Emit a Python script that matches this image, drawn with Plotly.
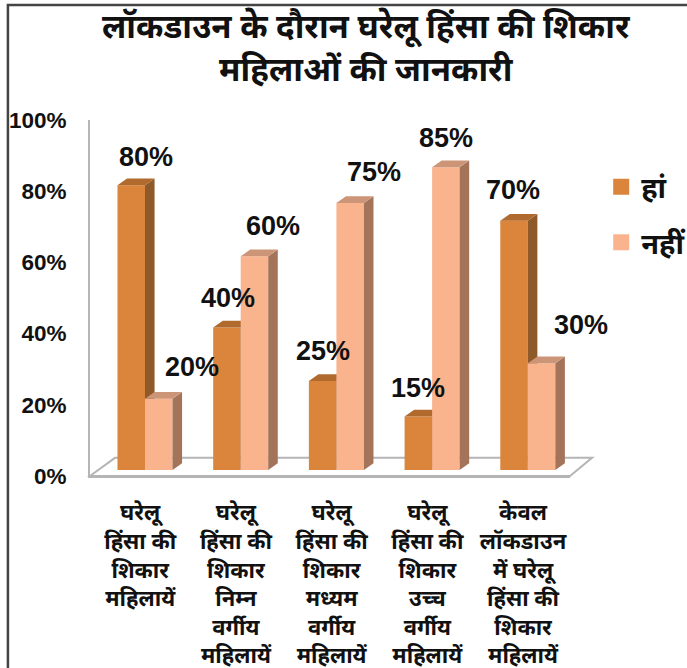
import plotly.graph_objects as go

TITLE = "लॉकडाउन के दौरान घरेलू हिंसा की शिकार<br>महिलाओं की जानकारी"
CATEGORIES = [
    "घरेलू<br>हिंसा की<br>शिकार<br>महिलायें",
    "घरेलू<br>हिंसा की<br>शिकार<br>निम्न<br>वर्गीय<br>महिलायें",
    "घरेलू<br>हिंसा की<br>शिकार<br>मध्यम<br>वर्गीय<br>महिलायें",
    "घरेलू<br>हिंसा की<br>शिकार<br>उच्च<br>वर्गीय<br>महिलायें",
    "केवल<br>लॉकडाउन<br>में घरेलू<br>हिंसा की<br>शिकार<br>महिलायें",
]
YES_VALUES = [80, 40, 25, 15, 70]
NO_VALUES = [20, 60, 75, 85, 30]
YES_NAME = "हां"
NO_NAME = "नहीं"
Y_TICKS = [0, 20, 40, 60, 80, 100]

YES_COLORS = dict(front="#DA843C", side="#8F5A2A", top="#B06A2E")
NO_COLORS = dict(front="#F9B48E", side="#A3745A", top="#CC9577")

# 3D look, in axis units
BAR_W = 0.2875
DEPTH_X = 0.1
DEPTH_Y = 1.9
BASE = 1.7

# label nudges from the top centre of each bar, pixels
YES_SHIFT = [(15, 28), (1, 30), (0, 30), (0, 29), (-1, 31)]
NO_SHIFT = [(33, 32), (19, 30), (24, 31), (0, 29), (39, 38)]

FONT = "Liberation Sans, Noto Sans, sans-serif"
HINDI = "Noto Sans, Noto Sans Devanagari, sans-serif"

fig = go.Figure()
xs = list(range(len(CATEGORIES)))


def add_series(values, colors, left_edge, xa, ya):
    fig.add_trace(go.Bar(
        x=xs, y=values, base=BASE, width=BAR_W, offset=left_edge,
        marker=dict(color=colors["front"], line=dict(width=0)),
        showlegend=False, xaxis=xa, yaxis=ya,
    ))
    for x, v in zip(xs, values):
        xl = x + left_edge
        xr = xl + BAR_W
        top = v + BASE
        fig.add_trace(go.Scatter(
            x=[xr, xr + DEPTH_X, xr + DEPTH_X, xr, xr],
            y=[BASE, BASE + DEPTH_Y, top + DEPTH_Y, top, BASE],
            mode="lines", fill="toself", fillcolor=colors["side"],
            line=dict(width=0), showlegend=False, xaxis=xa, yaxis=ya,
        ))
        fig.add_trace(go.Scatter(
            x=[xl, xl + DEPTH_X, xr + DEPTH_X, xr, xl],
            y=[top, top + DEPTH_Y, top + DEPTH_Y, top, top],
            mode="lines", fill="toself", fillcolor=colors["top"],
            line=dict(width=0), showlegend=False, xaxis=xa, yaxis=ya,
        ))


add_series(YES_VALUES, YES_COLORS, -BAR_W, "x", "y")
add_series(NO_VALUES, NO_COLORS, 0, "x2", "y2")

# legend only, the swatches of bar traces can't be sized
for i, (name, color) in enumerate([(YES_NAME, YES_COLORS["front"]), (NO_NAME, NO_COLORS["front"])]):
    fig.add_trace(go.Scatter(
        x=[None], y=[None], mode="markers", name=f"<b>{name}</b>", legendgroup=str(i),
        marker=dict(symbol="square", size=16, color=color),
    ))

for x, v, (dx, dy) in zip(xs, YES_VALUES, YES_SHIFT):
    fig.add_annotation(x=x - BAR_W / 2, y=v + BASE, text=f"<b>{v}%</b>", showarrow=False,
                       xshift=dx, yshift=dy, font=dict(size=27, color="#111", family=FONT))
for x, v, (dx, dy) in zip(xs, NO_VALUES, NO_SHIFT):
    fig.add_annotation(x=x + BAR_W / 2, y=v + BASE, text=f"<b>{v}%</b>", showarrow=False,
                       xshift=dx, yshift=dy, font=dict(size=27, color="#111", family=FONT))

fig.add_annotation(xref="paper", yref="paper", x=0.576, y=1.205, yanchor="middle", showarrow=False,
                   text=f"<b>{TITLE}</b>", align="center",
                   font=dict(size=33, color="#111", family=HINDI))

# floor of the chart box
fig.add_shape(type="path", xref="paper", yref="paper", layer="below",
              path="M 0 0 L 0.052 0.051 L 1.046 0.051 L 1 0 Z",
              line=dict(color="#B5B5B5", width=2), fillcolor="white")
# page frame
fig.add_shape(type="path", xref="paper", yref="paper",
              path="M -0.171 -0.54 L -0.171 1.323 L 1.25 1.323",
              line=dict(color="#444", width=2.5))

axis_x = dict(range=[-0.5747, 4.441], showgrid=False, zeroline=False, fixedrange=True)
axis_y = dict(range=[0, 100], showgrid=False, zeroline=False, fixedrange=True)

fig.update_layout(
    width=687, height=668,
    margin=dict(l=90, r=117, t=120, b=192, autoexpand=False),
    paper_bgcolor="white", plot_bgcolor="white",
    barmode="overlay",
    xaxis=dict(axis_x, tickmode="array", tickvals=[x - 0.05 for x in xs], ticktext=[f"<b>{c}</b>" for c in CATEGORIES],
               ticks="", showline=True, linecolor="#B5B5B5", linewidth=2, tickangle=0, ticklabelstandoff=16,
               tickfont=dict(size=22, color="#111", family=HINDI)),
    yaxis=dict(axis_y, tickmode="array", tickvals=Y_TICKS, ticktext=[f"<b>{t}%</b>" for t in Y_TICKS],
               ticks="", showline=True, linecolor="#B5B5B5", linewidth=2, ticklabelstandoff=17,
               tickfont=dict(size=22.5, color="#111", family=FONT)),
    xaxis2=dict(axis_x, overlaying="x", visible=False),
    yaxis2=dict(axis_y, overlaying="y", visible=False),
    legend=dict(x=1.065, y=0.884, xanchor="left", yanchor="top", tracegroupgap=15,
                bgcolor="rgba(0,0,0,0)",
                font=dict(size=29, color="#111", family=HINDI)),
)

fig.write_html("out.html", config=dict(displayModeBar=False), post_script="document.body.style.margin = '0';")
